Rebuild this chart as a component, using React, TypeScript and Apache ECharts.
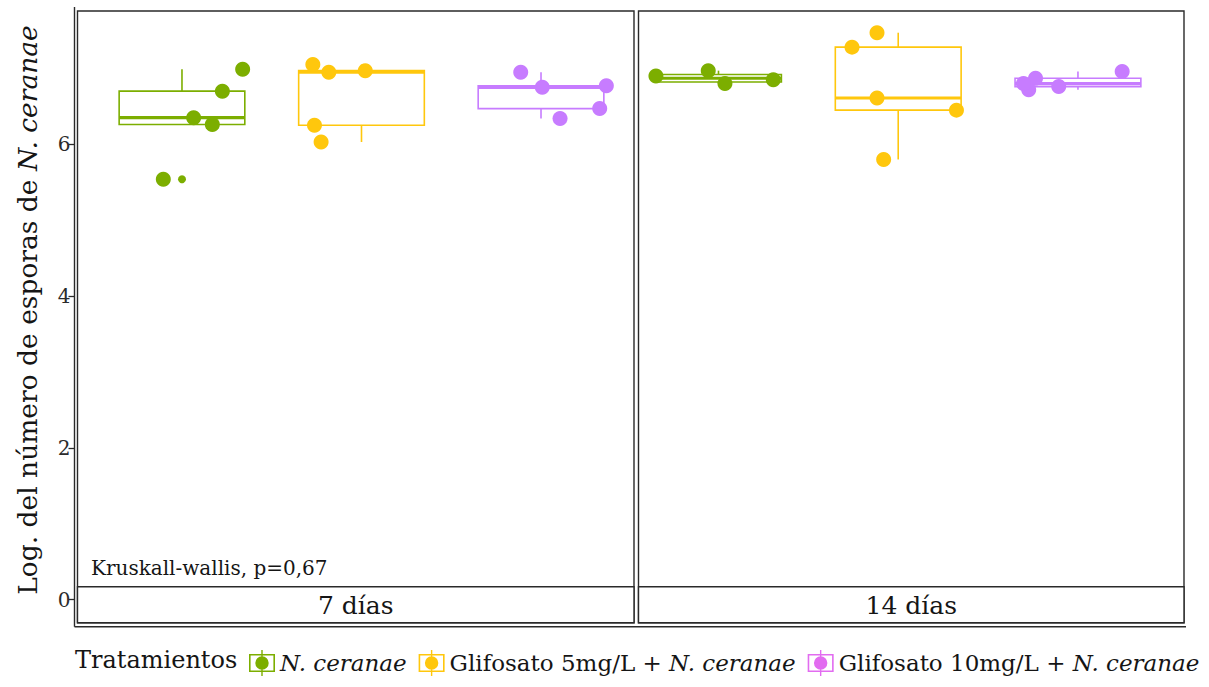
import React, { useEffect, useRef } from 'react';
import * as echarts from 'echarts';

// Treatment groups and their colours
const groups = ['N. ceranae', 'Glifosato 5mg/L + N. ceranae', 'Glifosato 10mg/L + N. ceranae'];
const groupPrefix = ['', 'Glifosato 5mg/L + ', 'Glifosato 10mg/L + '];
const groupColors = ['#7CAE00', '#FFC70D', '#C77CFF'];
const legendColors = ['#7CAE00', '#FFC70D', '#E26CF0'];

const panels = ['7 días', '14 días'];
const yTicks = [0, 2, 4, 6];
const categoryPos = [1, 2, 3];

// Day 7: log spore counts per group, horizontal jitter, box statistics [low, q1, median, q3, high]
const d7Values = [
  [6.99, 6.7, 6.35, 6.26, 5.54],
  [7.05, 6.95, 6.97, 6.25, 6.03],
  [6.95, 6.75, 6.77, 6.47, 6.34],
];
const d7Jitter = [
  [0.338, 0.225, 0.065, 0.169, -0.104],
  [-0.271, -0.182, 0.021, -0.262, -0.225],
  [-0.113, 0.007, 0.364, 0.327, 0.106],
];
const d7Stats = [
  [6.26, 6.26, 6.35, 6.7, 6.99],
  [6.03, 6.25, 6.95, 6.97, 7.05],
  [6.34, 6.47, 6.75, 6.77, 6.95],
];
const d7Outliers = [[0, 5.54]];

// Day 14
const d14Values = [
  [6.9, 6.97, 6.8, 6.85],
  [7.47, 7.28, 6.61, 6.45, 5.8],
  [6.87, 6.72, 6.76, 6.96, 6.8],
];
const d14Jitter = [
  [-0.348, -0.057, 0.036, 0.305],
  [-0.118, -0.257, -0.118, 0.324, -0.081],
  [-0.236, -0.274, -0.107, 0.246, -0.303],
];
const d14Stats = [
  [6.8, 6.82, 6.87, 6.92, 6.97],
  [5.8, 6.45, 6.61, 7.28, 7.47],
  [6.72, 6.76, 6.8, 6.87, 6.96],
];
const d14Outliers: number[][] = [];

const testLabel = 'Kruskall-wallis, p=0,67';

// Layout
const FONT = 'DejaVu Serif';
const TEXT = '#151515';
const LINE = '#2a2a2a';
const TOP = 11;
const PANEL_H = 611.7;
const STRIP_H = 36;
const panelBoxes = [
  { left: 77.5, width: 556.5, xMin: 0.418, xMax: 3.518 },
  { left: 638.5, width: 545.5, xMin: 0.555, xMax: 3.59 },
];
const Y_MIN = -0.303;
const Y_MAX = 7.756;
const BOX_W = 0.7;

const KEY_ICON =
  'path://M0 4H26V22H0Z M1.6 5.6V20.4H24.4V5.6Z M12.3 0H13.7V26H12.3Z ' +
  'M6.3 13A6.7 6.7 0 1 1 19.7 13A6.7 6.7 0 1 1 6.3 13Z';

export default function App() {
  const ref = useRef<HTMLDivElement>(null);

  useEffect(() => {
    document.body.style.margin = '0';
    if (!ref.current) return;
    const chart = echarts.init(ref.current, undefined, { renderer: 'svg' });

    const panelData = [
      { values: d7Values, jitter: d7Jitter, stats: d7Stats, outliers: d7Outliers },
      { values: d14Values, jitter: d14Jitter, stats: d14Stats, outliers: d14Outliers },
    ];

    const series: any[] = [];
    panelData.forEach((pd, p) => {
      series.push({
        type: 'custom',
        xAxisIndex: p,
        yAxisIndex: p,
        z: 2,
        silent: true,
        clip: false,
        encode: { x: 0, y: [1, 2, 3, 4, 5] },
        data: pd.stats.map((s, g) => [categoryPos[g], ...s, g]),
        renderItem: (params: any, api: any) => {
          const x = api.value(0);
          const g = api.value(6);
          const c = groupColors[g];
          const cx = api.coord([x, 0])[0];
          const yLow = api.coord([x, api.value(1)])[1];
          const yQ1 = api.coord([x, api.value(2)])[1];
          const yMed = api.coord([x, api.value(3)])[1];
          const yQ3 = api.coord([x, api.value(4)])[1];
          const yHigh = api.coord([x, api.value(5)])[1];
          const hw = api.size([BOX_W, 0])[0] / 2;
          const st = { stroke: c, lineWidth: 1.6, fill: null };
          return {
            type: 'group',
            children: [
              { type: 'line', shape: { x1: cx, y1: yHigh, x2: cx, y2: yQ3 }, style: st },
              { type: 'line', shape: { x1: cx, y1: yQ1, x2: cx, y2: yLow }, style: st },
              {
                type: 'rect',
                shape: { x: cx - hw, y: yQ3, width: hw * 2, height: yQ1 - yQ3 },
                style: { stroke: c, lineWidth: 1.6, fill: '#ffffff' },
              },
              {
                type: 'line',
                shape: { x1: cx - hw, y1: yMed, x2: cx + hw, y2: yMed },
                style: { stroke: c, lineWidth: 3.2 },
              },
            ],
          };
        },
      });
      pd.values.forEach((vals, g) => {
        series.push({
          type: 'scatter',
          name: groups[g],
          xAxisIndex: p,
          yAxisIndex: p,
          z: 4,
          silent: true,
          symbol: 'circle',
          symbolSize: 15,
          itemStyle: { color: groupColors[g], opacity: 1 },
          data: vals.map((v, i) => [categoryPos[g] + pd.jitter[g][i], v]),
        });
      });
      if (pd.outliers.length) {
        series.push({
          type: 'scatter',
          name: 'outlier',
          xAxisIndex: p,
          yAxisIndex: p,
          z: 3,
          silent: true,
          symbolSize: 8,
          itemStyle: { color: groupColors[0], opacity: 1 },
          data: pd.outliers.map(([g, v]) => [categoryPos[g], v]),
        });
      }
    });

    const graphics: any[] = [];
    // axis lines spanning both panels
    const leftX = panelBoxes[0].left - 3;
    const bottomY = TOP + PANEL_H + 4;
    const rightX = panelBoxes[1].left + panelBoxes[1].width + 2;
    graphics.push({
      type: 'line',
      z: 10,
      shape: { x1: leftX, y1: 7, x2: leftX, y2: bottomY },
      style: { stroke: LINE, lineWidth: 1.4 },
    });
    graphics.push({
      type: 'line',
      z: 10,
      shape: { x1: leftX, y1: bottomY, x2: rightX, y2: bottomY },
      style: { stroke: LINE, lineWidth: 1.4 },
    });
    // facet strips at the bottom of each panel
    panelBoxes.forEach((b, p) => {
      graphics.push({
        type: 'rect',
        z: 10,
        shape: { x: b.left, y: TOP + PANEL_H - STRIP_H, width: b.width, height: STRIP_H },
        style: { fill: '#ffffff', stroke: LINE, lineWidth: 1.4 },
      });
      graphics.push({
        type: 'text',
        z: 11,
        x: b.left + b.width / 2,
        y: TOP + PANEL_H - STRIP_H / 2 + 1,
        style: {
          text: panels[p],
          fontFamily: FONT,
          fontSize: 25,
          fill: TEXT,
          align: 'center',
          verticalAlign: 'middle',
        },
      });
    });
    graphics.push({
      type: 'text',
      z: 11,
      x: 91,
      y: 568,
      style: {
        text: testLabel,
        fontFamily: FONT,
        fontSize: 20,
        fill: TEXT,
        align: 'left',
        verticalAlign: 'middle',
      },
    });
    // y axis title
    graphics.push({
      type: 'text',
      z: 11,
      x: 27,
      y: 310,
      rotation: Math.PI / 2,
      style: {
        text: '{a|Log. del número de esporas de }{b|N. ceranae}',
        align: 'center',
        verticalAlign: 'middle',
        rich: {
          a: { fontFamily: FONT, fontSize: 26.5, fill: TEXT, color: TEXT },
          b: { fontFamily: FONT, fontSize: 26.5, fontStyle: 'italic', fill: TEXT, color: TEXT },
        },
      },
    });
    graphics.push({
      type: 'text',
      z: 11,
      x: 75,
      y: 660,
      style: {
        text: 'Tratamientos',
        fontFamily: FONT,
        fontSize: 24,
        fill: TEXT,
        align: 'left',
        verticalAlign: 'middle',
      },
    });

    const option: any = {
      animation: false,
      backgroundColor: '#ffffff',
      grid: panelBoxes.map((b) => ({
        left: b.left,
        top: TOP,
        width: b.width,
        height: PANEL_H,
        show: true,
        borderColor: LINE,
        borderWidth: 1.4,
        backgroundColor: '#ffffff',
        containLabel: false,
      })),
      xAxis: panelBoxes.map((b, p) => ({
        type: 'value',
        gridIndex: p,
        min: b.xMin,
        max: b.xMax,
        offset: 4,
        axisLine: { show: false },
        axisTick: {
          show: true,
          customValues: categoryPos,
          length: 5,
          lineStyle: { color: LINE, width: 1.3 },
        },
        axisLabel: { show: false },
        splitLine: { show: false },
      })),
      yAxis: panelBoxes.map((b, p) => ({
        type: 'value',
        gridIndex: p,
        min: Y_MIN,
        max: Y_MAX,
        offset: 3,
        axisLine: { show: false },
        axisTick: {
          show: p === 0,
          customValues: yTicks,
          length: 6,
          lineStyle: { color: LINE, width: 1.3 },
        },
        axisLabel: {
          show: p === 0,
          customValues: yTicks,
          fontFamily: FONT,
          fontSize: 20,
          color: '#2b2b2b',
          margin: 4,
        },
        splitLine: { show: false },
      })),
      legend: {
        left: 244,
        top: 645,
        width: 965,
        itemWidth: 26,
        itemHeight: 26,
        itemGap: 12,
        selectedMode: false,
        itemStyle: { borderWidth: 0 },
        textStyle: {
          fontFamily: FONT,
          fontSize: 23,
          color: TEXT,
          rich: {
            i: { fontFamily: FONT, fontSize: 23, fontStyle: 'italic', color: TEXT },
          },
        },
        formatter: (name: string) => {
          const g = groups.indexOf(name);
          return groupPrefix[g] + '{i|N. ceranae}';
        },
        data: groups.map((g, i) => ({ name: g, icon: KEY_ICON, itemStyle: { color: legendColors[i] } })),
      },
      graphic: { elements: graphics },
      series,
    };

    chart.setOption(option);
    return () => chart.dispose();
  }, []);

  return <div ref={ref} style={{ width: 1209, height: 687 }} />;
}
